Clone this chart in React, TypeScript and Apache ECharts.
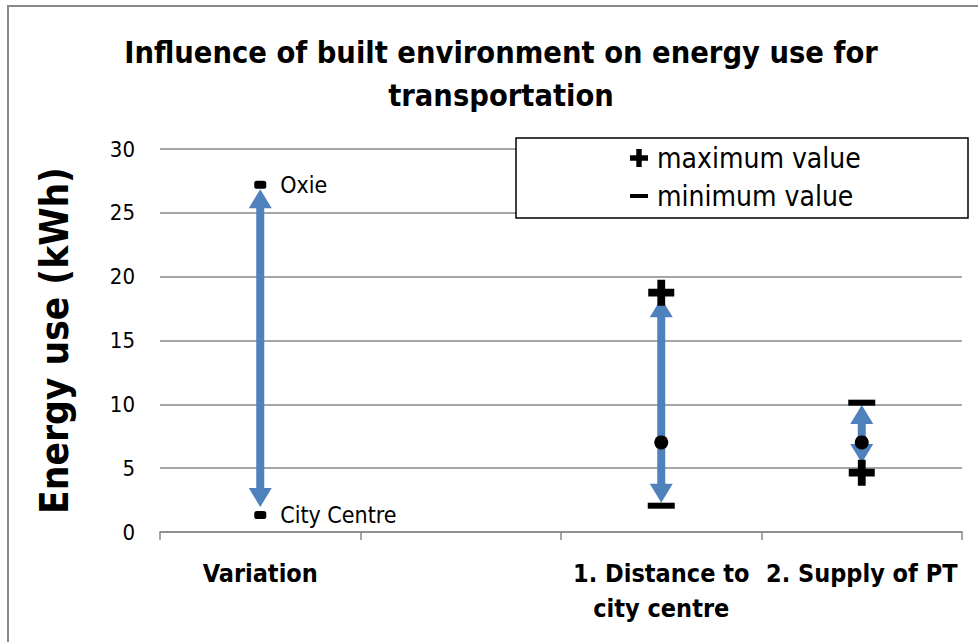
import React, { useEffect, useRef } from "react";
import * as echarts from "echarts";

const categories = ["Variation", "", "1. Distance to\ncity centre", "2. Supply of PT"];
const endpointNames = ["Oxie", "City Centre"];
const endpointValues = [27.2, 1.33];
const maxValues: [number, number][] = [[2, 18.75], [3, 4.65]];
const minValues: [number, number][] = [[2, 2.06], [3, 10.13]];
const midValues: [number, number][] = [[2, 7.02], [3, 7.02]];
const arrowRanges: [number, number, number][] = [
  [0, 26.85, 1.95],
  [2, 18.3, 2.3],
  [3, 9.95, 5.4],
];
const yTicks = { min: 0, max: 30, interval: 5 };

const FONT = '"DejaVu Sans Condensed", Lato, sans-serif';
const BLUE = "#4F81BD";
const PLUS = "path://M35,0H65V35H100V65H65V100H35V65H0V35H35Z";
const MINUS_ICON = "path://M0,0M0,100M0,39H100V61H0Z";

export default function App() {
  const ref = useRef<HTMLDivElement>(null);
  useEffect(() => {
    document.body.style.margin = "0";
    const chart = echarts.init(ref.current!, null, { renderer: "svg" });
    chart.setOption({
      animation: false,
      backgroundColor: "#fff",
      textStyle: { fontFamily: FONT },
      title: {
        text: "Influence of built environment on energy use for\ntransportation",
        left: 496,
        textAlign: "center",
        top: 26,
        textStyle: { fontFamily: FONT, fontSize: 30.5, fontWeight: "bold", lineHeight: 43, color: "#000" },
      },
      grid: { left: 160, top: 149, width: 802, height: 383 },
      xAxis: {
        type: "category",
        data: categories,
        boundaryGap: true,
        axisLine: { lineStyle: { color: "#888", width: 1.5 } },
        axisTick: { show: true, length: 8, interval: 0, lineStyle: { color: "#888", width: 1.5 } },
        axisLabel: {
          interval: 0,
          margin: 24,
          fontFamily: FONT,
          fontSize: 25,
          fontWeight: "bold",
          lineHeight: 35,
          color: "#000",
        },
      },
      yAxis: {
        type: "value",
        min: yTicks.min,
        max: yTicks.max,
        interval: yTicks.interval,
        name: "Energy use (kWh)",
        nameLocation: "middle",
        nameRotate: 90,
        nameGap: 86,
        nameTextStyle: { fontFamily: FONT, fontSize: 38.5, fontWeight: "bold", color: "#000" },
        axisLine: { show: false },
        axisTick: { show: false },
        axisLabel: { margin: 25, fontFamily: FONT, fontSize: 22, color: "#000" },
        splitLine: { lineStyle: { color: "#888", width: 1.5 } },
      },
      legend: {
        orient: "vertical",
        left: 630,
        top: 143,
        padding: 0,
        itemWidth: 18,
        itemHeight: 18,
        itemGap: 8,
        z: 20,
        textStyle: { fontFamily: FONT, fontSize: 28, lineHeight: 30, color: "#000", padding: [0, 0, 0, 4] },
        data: [
          { name: "maximum value", icon: PLUS },
          { name: "minimum value", icon: MINUS_ICON },
        ],
      },
      graphic: [
        {
          type: "rect",
          z: 15,
          shape: { x: 516, y: 138, width: 452, height: 80 },
          style: { fill: "#fff", stroke: "#000", lineWidth: 1.5 },
        },
        {
          type: "polyline",
          z: 15,
          shape: { points: [[978, 6], [8, 6], [8, 642]] },
          style: { fill: "none", stroke: "#888", lineWidth: 2 },
        },
      ],
      series: [
        {
          type: "custom",
          name: "arrows",
          z: 2,
          data: arrowRanges,
          encode: { x: 0, y: [1, 2] },
          renderItem: (params: any, api: any) => {
            const x = api.value(0);
            const p1 = api.coord([x, api.value(1)]);
            const p2 = api.coord([x, api.value(2)]);
            const hh = 19;
            const hw = 23;
            return {
              type: "group",
              children: [
                {
                  type: "line",
                  shape: { x1: p1[0], y1: p1[1] + hh - 2, x2: p2[0], y2: p2[1] - hh + 2 },
                  style: { stroke: BLUE, lineWidth: 8 },
                },
                {
                  type: "polygon",
                  shape: { points: [[p1[0], p1[1]], [p1[0] - hw / 2, p1[1] + hh], [p1[0] + hw / 2, p1[1] + hh]] },
                  style: { fill: BLUE },
                },
                {
                  type: "polygon",
                  shape: { points: [[p2[0], p2[1]], [p2[0] - hw / 2, p2[1] - hh], [p2[0] + hw / 2, p2[1] - hh]] },
                  style: { fill: BLUE },
                },
              ],
            };
          },
        },
        {
          type: "scatter",
          name: "endpoints",
          z: 5,
          symbol: "roundRect",
          symbolSize: [12, 8],
          itemStyle: { color: "#000", opacity: 1 },
          data: endpointValues.map((v, i) => ({ value: [0, v], name: endpointNames[i] })),
          label: {
            show: true,
            position: "right",
            distance: 14,
            formatter: (p: any) => p.name,
            fontFamily: FONT,
            fontSize: 23,
            color: "#000",
          },
        },
        {
          type: "scatter",
          name: "mid",
          z: 5,
          symbol: "circle",
          symbolSize: 14,
          itemStyle: { color: "#000", opacity: 1 },
          data: midValues,
        },
        {
          type: "scatter",
          name: "maximum value",
          z: 6,
          symbol: PLUS,
          symbolSize: 26,
          itemStyle: { color: "#000", opacity: 1 },
          data: maxValues,
        },
        {
          type: "scatter",
          name: "minimum value",
          z: 6,
          symbol: "rect",
          symbolSize: [27, 6],
          itemStyle: { color: "#000", opacity: 1 },
          data: minValues,
        },
      ],
    });
    return () => chart.dispose();
  }, []);
  return <div ref={ref} style={{ width: 978, height: 642 }} />;
}
